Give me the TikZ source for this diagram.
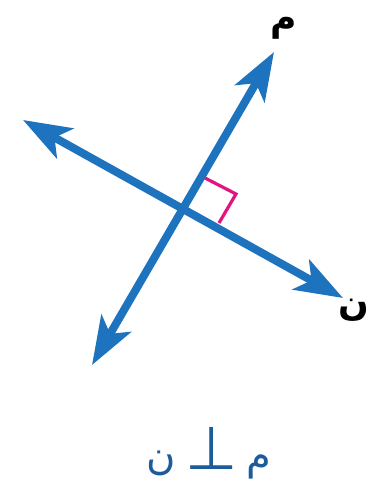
\documentclass[tikz,border=0pt]{standalone}
\usepackage{fontspec}
\newfontfamily\arabicfont[Script=Arabic]{DejaVu Sans}
\TeXXeTstate=1
\usetikzlibrary{arrows.meta}
\definecolor{lineblue}{HTML}{1E73BE}
\definecolor{textblue}{HTML}{1D5C9A}
\definecolor{marker}{HTML}{E0157F}
\tikzset{
  perpline/.style={draw=lineblue,line width=8pt,
                   {Stealth[length=48pt,width=34pt,inset=12pt]}-{Stealth[length=48pt,width=34pt,inset=12pt]}},
  rightmark/.style={draw=marker,line width=3.2pt},
  letter/.style={font=\arabicfont\bfseries\fontsize{36}{40}\selectfont,text=black,inner sep=0pt}
}
\begin{document}
\begin{tikzpicture}[x=1pt,y=-1pt]
  \useasboundingbox[fill=white] (0,0) rectangle (370,497);
  % the two lines
  \coordinate (mlow) at (92,365);
  \coordinate (mhigh) at (274,52);
  \coordinate (nleft) at (23,120);
  \coordinate (nright) at (343,298);
  \draw[perpline] (mlow) -- (mhigh);
  \draw[perpline] (nleft) -- (nright);
  % right angle
  \coordinate (cm) at (205,178);
  \coordinate (cc) at (236,194);
  \coordinate (cn) at (219,223);
  \draw[rightmark] (cm) -- (cc) -- (cn);
  \node[letter] (labm) at (284,28) {\beginR م\endR};
  \node[letter] (labn) at (354,310) {\beginR ن\endR};
  \node[letter,text=textblue,font=\arabicfont\fontsize{40}{44}\selectfont] (rel) at (209,453)
    {\beginR م\hspace{9pt}{\fontsize{60}{60}\selectfont ⊥}\hspace{9pt}ن\endR};
\end{tikzpicture}
\end{document}
